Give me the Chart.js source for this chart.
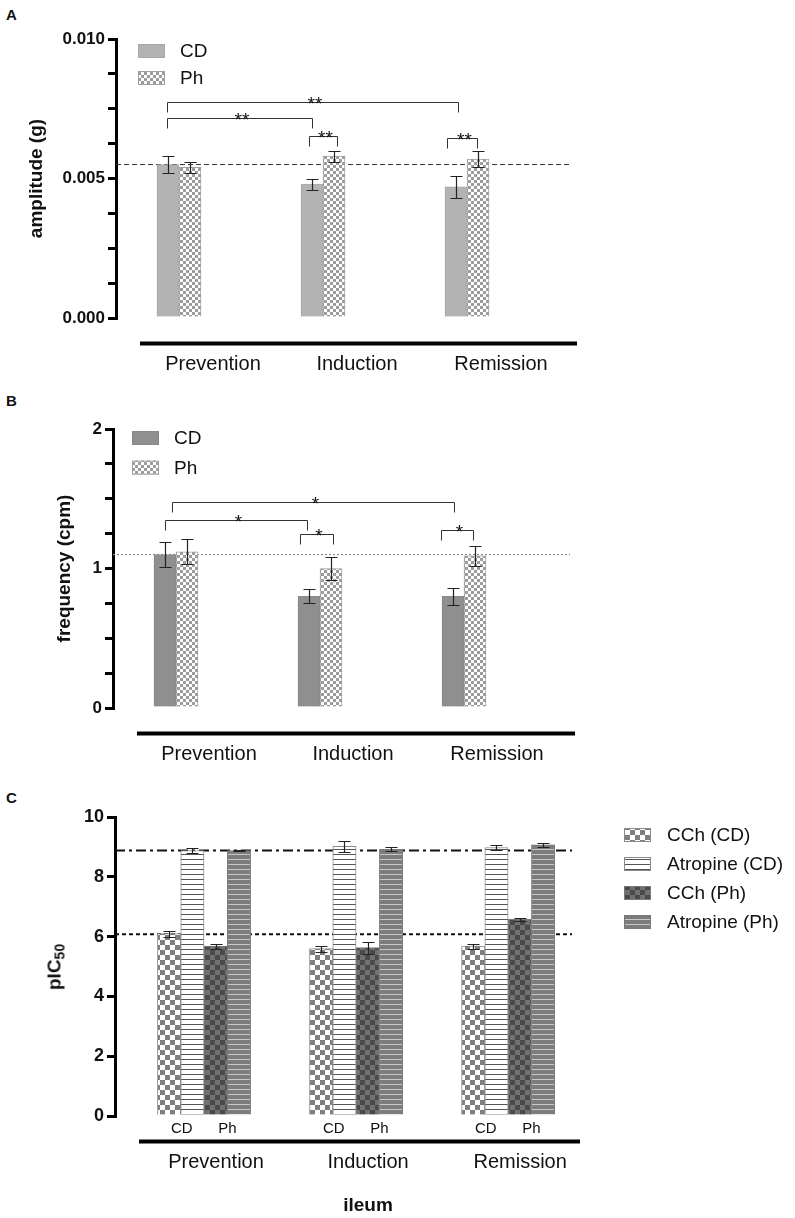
<!DOCTYPE html>
<html>
<head>
<meta charset="utf-8">
<script src="https://cdn.jsdelivr.net/npm/chart.js@4.4.1/dist/chart.umd.min.js"></script>
<style>
  body { margin: 0; background: #fff; font-family: 'Liberation Sans', Arial, sans-serif; color: #111; }
  #page { position: relative; width: 795px; height: 1218px; overflow: hidden; }
  canvas { position: absolute; left: 0; }
  .tag { position: absolute; left: 6px; font-weight: bold; font-size: 15px; line-height: 15px; }
  .free { position: absolute; font-weight: bold; font-size: 19px; line-height: 22px; white-space: nowrap; transform: translate(-50%, -50%); }
  .free sub { font-size: 14px; vertical-align: -4px; }
</style>
</head>
<body>
<div id="page">
  <div class="tag" style="top:7px">A</div>
  <div class="tag" style="top:393px">B</div>
  <div class="tag" style="top:790px">C</div>
  <canvas id="chartA" width="795" height="390" style="top:0"></canvas>
  <canvas id="chartB" width="795" height="400" style="top:390px"></canvas>
  <canvas id="chartC" width="795" height="428" style="top:790px"></canvas>
  <div class="free" style="left:57px; top:967px; transform: translate(-50%, -50%) rotate(-90deg)">pIC<sub>50</sub></div>
  <div class="free" style="left:368px; top:1205px">ileum</div>
</div>
<script>
const categories = ['Prevention', 'Induction', 'Remission'];

// A: amplitude (g)
const ampCD = [0.0055, 0.0048, 0.0047];
const ampCDErr = [0.0003, 0.0002, 0.0004];
const ampPh = [0.0054, 0.0058, 0.0057];
const ampPhErr = [0.0002, 0.0002, 0.0003];
const ampRef = 0.0055;
const ampTicks = [0, 0.005, 0.010];
// [from, to, level, label], from/to in category units
const ampSig = [
  [-0.085, 1.94, 0.00774, '**'],
  [-0.085, 0.926, 0.00717, '**'],
  [0.90, 1.10, 0.00654, '**'],
  [1.86, 2.07, 0.00645, '**']
];

// B: frequency (cpm)
const freqCD = [1.10, 0.80, 0.80];
const freqCDErr = [0.09, 0.05, 0.06];
const freqPh = [1.12, 1.00, 1.09];
const freqPhErr = [0.09, 0.08, 0.07];
const freqRef = 1.1;
const freqTicks = [0, 1, 2];
const freqSig = [
  [-0.03, 1.93, 1.476, '*'],
  [-0.076, 0.908, 1.347, '*'],
  [0.863, 1.092, 1.246, '*'],
  [1.838, 2.065, 1.277, '*']
];

// C: pIC50
const cchCD = [6.10, 5.60, 5.68];
const cchCDErr = [0.10, 0.10, 0.08];
const atrCD = [8.88, 9.02, 8.98];
const atrCDErr = [0.08, 0.19, 0.10];
const cchPh = [5.68, 5.63, 6.58];
const cchPhErr = [0.08, 0.20, 0.05];
const atrPh = [8.88, 8.92, 9.07];
const atrPhErr = [0.03, 0.07, 0.06];
const atrRef = 8.88;
const cchRef = 6.08;
const pic50Ticks = [0, 2, 4, 6, 8, 10];

const FONT = "'Liberation Sans', Arial, sans-serif";
Chart.defaults.font.family = FONT;
Chart.defaults.color = '#111';

function checker(ctx, size, c1, c2) {
  const cv = document.createElement('canvas');
  cv.width = cv.height = size * 2;
  const g = cv.getContext('2d');
  g.fillStyle = c1; g.fillRect(0, 0, size * 2, size * 2);
  g.fillStyle = c2; g.fillRect(0, 0, size, size); g.fillRect(size, size, size, size);
  return ctx.createPattern(cv, 'repeat');
}

function stripes(ctx, period, bg, line) {
  const cv = document.createElement('canvas');
  cv.width = cv.height = period;
  const g = cv.getContext('2d');
  g.fillStyle = bg; g.fillRect(0, 0, period, period);
  g.fillStyle = line; g.fillRect(0, period - 1, period, 1);
  return ctx.createPattern(cv, 'repeat');
}

const pts = arr => arr.map((v, i) => ({ x: i, y: v }));
const isTick = (list, v) => list.some(t => Math.abs(t - v) < 1e-9);

const errorBars = {
  id: 'errorBars',
  afterDatasetsDraw(chart) {
    const { ctx, scales: { y } } = chart;
    ctx.save();
    ctx.strokeStyle = '#222';
    ctx.lineWidth = 1.2;
    chart.data.datasets.forEach((ds, i) => {
      if (!ds.errors) return;
      chart.getDatasetMeta(i).data.forEach((bar, j) => {
        const v = ds.data[j].y, e = ds.errors[j];
        const top = Math.round(y.getPixelForValue(v + e)) + 0.5;
        const bot = Math.round(y.getPixelForValue(v - e)) + 0.5;
        const x = Math.round(bar.x) + 0.5;
        ctx.beginPath();
        ctx.moveTo(x, top); ctx.lineTo(x, bot);
        ctx.moveTo(x - 6, top); ctx.lineTo(x + 6, top);
        ctx.moveTo(x - 6, bot); ctx.lineTo(x + 6, bot);
        ctx.stroke();
      });
    });
    ctx.restore();
  }
};

function brackets(items) {
  return {
    id: 'brackets',
    afterDatasetsDraw(chart) {
      const { ctx, scales: { x, y } } = chart;
      ctx.save();
      ctx.strokeStyle = '#333';
      ctx.lineWidth = 1;
      ctx.fillStyle = '#111';
      ctx.font = '19px ' + FONT;
      ctx.textAlign = 'center';
      ctx.textBaseline = 'alphabetic';
      items.forEach(([a, b, level, label]) => {
        const x1 = Math.round(x.getPixelForValue(a)) + 0.5;
        const x2 = Math.round(x.getPixelForValue(b)) + 0.5;
        const yy = Math.round(y.getPixelForValue(level)) + 0.5;
        ctx.beginPath();
        ctx.moveTo(x1, yy + 10); ctx.lineTo(x1, yy); ctx.lineTo(x2, yy); ctx.lineTo(x2, yy + 10);
        ctx.stroke();
        ctx.fillText(label, (x1 + x2) / 2 + 2, yy + 7);
      });
      ctx.restore();
    }
  };
}

function baseLine(dRight) {
  return {
    id: 'baseLine',
    afterDraw(chart) {
      const { ctx, chartArea } = chart;
      ctx.save();
      ctx.strokeStyle = '#000';
      ctx.lineWidth = 4;
      ctx.beginPath();
      ctx.moveTo(chartArea.left + 24, chartArea.bottom + 25.5);
      ctx.lineTo(chartArea.right + dRight, chartArea.bottom + 25.5);
      ctx.stroke();
      ctx.restore();
    }
  };
}

function boxLegend(x, y, gap, textDx) {
  return {
    id: 'boxLegend',
    afterDraw(chart) {
      const { ctx } = chart;
      ctx.save();
      ctx.font = '19px ' + FONT;
      ctx.textBaseline = 'middle';
      ctx.textAlign = 'left';
      chart.data.datasets.filter(ds => ds.type !== 'line').forEach((ds, i) => {
        const cy = y + i * gap;
        ctx.fillStyle = ds.backgroundColor;
        ctx.fillRect(x, cy - 7, 27, 14);
        ctx.strokeStyle = ds.borderColor;
        ctx.lineWidth = 1;
        ctx.strokeRect(x + 0.5, cy - 6.5, 26, 13);
        ctx.fillStyle = '#111';
        ctx.fillText(ds.label, x + textDx, cy + 1);
      });
      ctx.restore();
    }
  };
}

function refLine(value, xmin, xmax, color, width, dash) {
  return {
    type: 'line', label: 'ref',
    data: [{ x: xmin, y: value }, { x: xmax, y: value }],
    borderColor: color, borderWidth: width, borderDash: dash,
    pointRadius: 0, fill: false, order: 1
  };
}

function yAxis(min, max, step, tickList, fmt, title, titlePad, width, size) {
  return {
    min, max,
    ticks: {
      stepSize: step, autoSkip: false, padding: 3,
      font: { size, weight: 'bold' }, color: '#111',
      callback: v => isTick(tickList, v) ? fmt(v) : ''
    },
    grid: { drawOnChartArea: false, tickLength: 8, tickWidth: 3, lineWidth: 3, tickColor: '#000', color: '#000' },
    border: { display: true, width: 3, color: '#000' },
    title: title ? { display: true, text: title, font: { size: 19, weight: 'bold' }, color: '#111', padding: { top: titlePad, bottom: 0 } } : { display: false },
    afterFit: s => { s.width = width; }
  };
}

function xAxis(min, max, height, shift) {
  return {
    type: 'linear', min, max, offset: false,
    ticks: {
      stepSize: 1, includeBounds: false, autoSkip: false, maxRotation: 0, minRotation: 0,
      padding: 26, labelOffset: shift, font: { size: 20 }, color: '#111',
      callback: v => categories[v] ?? ''
    },
    grid: { display: false },
    border: { display: false },
    afterFit: s => { s.height = height; }
  };
}

const baseOptions = (top, right, scales) => ({
  responsive: false,
  devicePixelRatio: 1,
  animation: false,
  events: [],
  layout: { padding: { top, right, left: 0, bottom: 0 } },
  plugins: { legend: { display: false }, tooltip: { enabled: false } },
  scales
});

// ---- A ----
const ctxA = document.getElementById('chartA').getContext('2d');
const A_MIN = -0.4375, A_MAX = 2.715;
new Chart(ctxA, {
  type: 'bar',
  data: {
    datasets: [
      { label: 'CD', data: pts(ampCD), errors: ampCDErr, backgroundColor: '#b3b3b3', borderColor: '#a8a8a8', borderWidth: 1, barThickness: 22, order: 0 },
      { label: 'Ph', data: pts(ampPh), errors: ampPhErr, backgroundColor: checker(ctxA, 3, '#ffffff', '#9c9c9c'), borderColor: '#a0a0a0', borderWidth: 1, barThickness: 22, order: 0 },
      refLine(ampRef, A_MIN, A_MAX, '#333', 1, [5, 3])
    ]
  },
  options: baseOptions(39, 225, {
    x: xAxis(A_MIN, A_MAX, 72, 34),
    y: yAxis(0, 0.010, 0.00125, ampTicks, v => v.toFixed(3), 'amplitude (g)', 25, 116, 17)
  }),
  plugins: [errorBars, brackets(ampSig), baseLine(7), boxLegend(138, 51, 27, 42)]
});

// ---- B ----
const ctxB = document.getElementById('chartB').getContext('2d');
const B_MIN = -0.4375, B_MAX = 2.736;
new Chart(ctxB, {
  type: 'bar',
  data: {
    datasets: [
      { label: 'CD', data: pts(freqCD), errors: freqCDErr, backgroundColor: '#8f8f8f', borderColor: '#888888', borderWidth: 1, barThickness: 22, order: 0 },
      { label: 'Ph', data: pts(freqPh), errors: freqPhErr, backgroundColor: checker(ctxB, 3, '#ffffff', '#9c9c9c'), borderColor: '#a0a0a0', borderWidth: 1, barThickness: 22, order: 0 },
      refLine(freqRef, B_MIN, B_MAX, '#888', 1.2, [2, 2])
    ]
  },
  options: baseOptions(39, 225, {
    x: xAxis(B_MIN, B_MAX, 82, 33),
    y: yAxis(0, 2, 0.25, freqTicks, v => String(v), 'frequency (cpm)', 53, 113, 17)
  }),
  plugins: [errorBars, brackets(freqSig), baseLine(5), boxLegend(132, 48, 29.6, 42)]
});

// ---- C ----
const ctxC = document.getElementById('chartC').getContext('2d');
const C_MIN = -0.5855, C_MAX = 2.42;
const subLabels = {
  id: 'subLabels',
  afterDraw(chart) {
    const { ctx, chartArea } = chart;
    const m = [0, 1, 2, 3].map(i => chart.getDatasetMeta(i).data);
    ctx.save();
    ctx.font = '15px ' + FONT;
    ctx.fillStyle = '#111';
    ctx.textAlign = 'center';
    ctx.textBaseline = 'middle';
    categories.forEach((c, j) => {
      ctx.fillText('CD', (m[0][j].x + m[1][j].x) / 2 + 1, chartArea.bottom + 13);
      ctx.fillText('Ph', (m[2][j].x + m[3][j].x) / 2, chartArea.bottom + 13);
    });
    ctx.restore();
  }
};
new Chart(ctxC, {
  type: 'bar',
  data: {
    datasets: [
      { label: 'CCh (CD)', data: pts(cchCD), errors: cchCDErr, backgroundColor: checker(ctxC, 5, '#ffffff', '#7f7f7f'), borderColor: '#8a8a8a', borderWidth: 1, barThickness: 23.3, order: 0 },
      { label: 'Atropine (CD)', data: pts(atrCD), errors: atrCDErr, backgroundColor: stripes(ctxC, 5, '#ffffff', '#555555'), borderColor: '#8a8a8a', borderWidth: 1, barThickness: 23.3, order: 0 },
      { label: 'CCh (Ph)', data: pts(cchPh), errors: cchPhErr, backgroundColor: checker(ctxC, 5, '#717171', '#4a4a4a'), borderColor: '#7a7a7a', borderWidth: 1, barThickness: 23.3, order: 0 },
      { label: 'Atropine (Ph)', data: pts(atrPh), errors: atrPhErr, backgroundColor: stripes(ctxC, 5, '#7c7c7c', '#c8c8c8'), borderColor: '#7a7a7a', borderWidth: 1, barThickness: 23.3, order: 0 },
      refLine(atrRef, C_MIN, C_MAX, '#111', 2, [10, 4, 3, 4]),
      refLine(cchRef, C_MIN, C_MAX, '#111', 2, [4, 3])
    ]
  },
  options: baseOptions(27, 223, {
    x: xAxis(C_MIN, C_MAX, 102, 12),
    y: yAxis(0, 10, 2, pic50Ticks, v => String(v), null, 0, 115, 18)
  }),
  plugins: [errorBars, baseLine(8), subLabels, boxLegend(624, 45, 29, 43)]
});
</script>
</body>
</html>
